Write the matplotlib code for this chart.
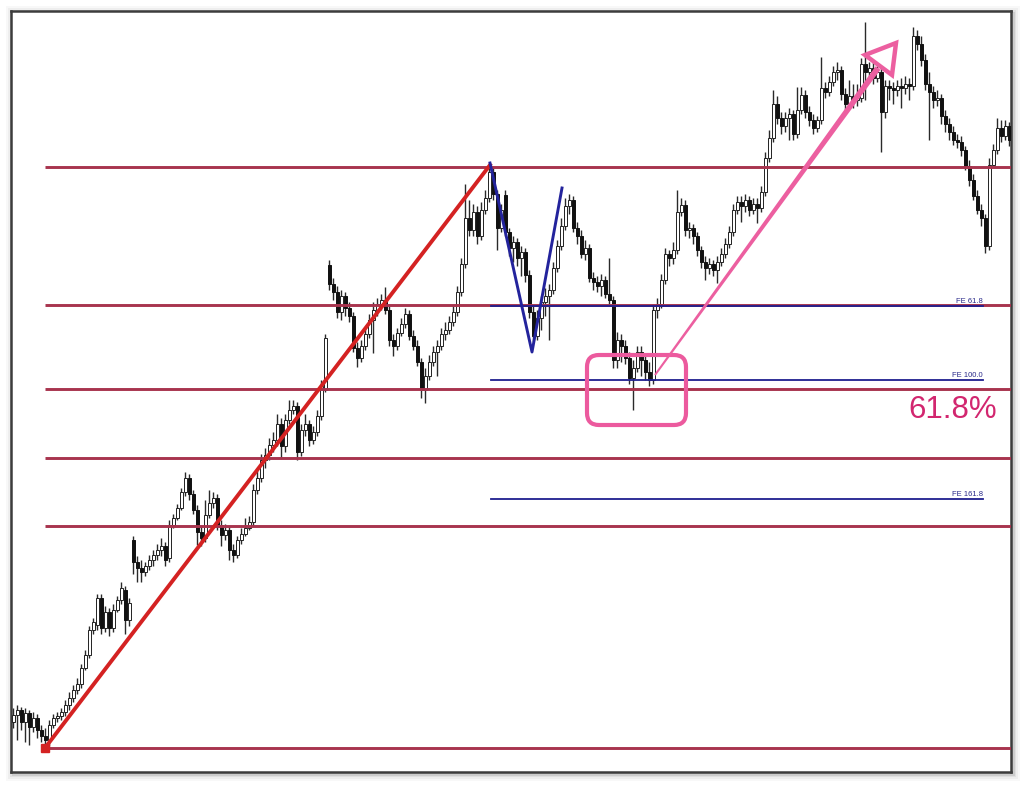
# %% Import
import numpy as np
import matplotlib.pyplot as plt
from matplotlib.patches import FancyBboxPatch, Polygon, Rectangle

# %% Data
# price in points, one value per candle
opens = [78, 85, 90, 78, 87, 73, 82, 70, 64, 60,
         75, 82, 84, 88, 95, 102, 110, 116, 132, 145,
         170, 175, 202, 172, 188, 172, 190, 200, 210, 180,
         260, 238, 232, 228, 234, 240, 245, 250, 254, 242,
         275, 282, 292, 308, 322, 306, 290, 268, 262, 285,
         297, 302, 275, 265, 270, 250, 245, 260, 266, 272,
         278, 310, 322, 340, 345, 355, 360, 376, 354, 380,
         390, 394, 348, 370, 376, 360, 368, 384, 410, 535,
         516, 508, 488, 504, 492, 484, 452, 442, 454, 466,
         480, 490, 496, 500, 490, 460, 454, 467, 476, 486,
         464, 454, 438, 410, 424, 438, 448, 454, 466, 470,
         478, 488, 508, 536, 582, 570, 588, 564, 590, 602,
         628, 606, 572, 605, 568, 552, 558, 542, 548, 525,
         488, 464, 482, 498, 504, 510, 532, 554, 574, 594,
         600, 572, 564, 546, 552, 522, 518, 514, 520, 506,
         500, 440, 460, 454, 442, 422, 432, 448, 440, 428,
         420, 490, 496, 520, 546, 542, 550, 588, 595, 570,
         572, 564, 550, 538, 532, 536, 530, 538, 546, 556,
         568, 590, 598, 594, 600, 590, 596, 592, 608, 642,
         662, 696, 682, 674, 682, 686, 666, 690, 705, 688,
         680, 672, 680, 712, 708, 718, 728, 730, 706, 696,
         704, 700, 702, 736, 728, 732, 722, 728, 688, 714,
         712, 710, 714, 712, 716, 714, 764, 756, 740, 716,
         708, 700, 702, 684, 676, 668, 660, 658, 650, 634,
         620, 604, 590, 582, 554, 635, 650, 672, 664, 674]
closes = [85, 90, 78, 87, 73, 82, 70, 64, 60, 75,
          82, 84, 88, 95, 102, 110, 116, 132, 145, 170,
          178, 202, 172, 188, 172, 190, 200, 212, 180, 197,
          238, 232, 228, 234, 240, 245, 250, 254, 240, 275,
          282, 292, 308, 322, 306, 290, 268, 262, 285, 297,
          302, 275, 265, 270, 250, 245, 260, 266, 272, 278,
          310, 322, 340, 345, 355, 360, 376, 354, 380, 390,
          394, 348, 370, 376, 360, 368, 384, 414, 462, 516,
          508, 488, 504, 492, 484, 452, 442, 454, 466, 480,
          490, 496, 500, 490, 460, 454, 467, 476, 486, 464,
          454, 438, 410, 424, 438, 448, 454, 466, 470, 478,
          488, 508, 536, 582, 570, 588, 564, 590, 602, 628,
          606, 572, 590, 568, 552, 558, 542, 548, 525, 488,
          464, 482, 498, 504, 510, 532, 554, 574, 594, 600,
          572, 564, 546, 552, 522, 518, 514, 520, 506, 500,
          440, 460, 454, 442, 422, 432, 448, 440, 428, 420,
          490, 496, 520, 546, 542, 550, 588, 595, 570, 572,
          564, 550, 538, 532, 536, 530, 538, 546, 556, 568,
          590, 598, 594, 600, 590, 596, 592, 608, 642, 662,
          696, 682, 674, 682, 686, 666, 690, 705, 688, 680,
          672, 680, 712, 708, 718, 728, 730, 706, 696, 704,
          700, 702, 736, 728, 732, 722, 728, 688, 714, 712,
          710, 714, 712, 716, 714, 764, 756, 740, 716, 708,
          700, 702, 684, 676, 668, 660, 658, 650, 634, 620,
          604, 590, 582, 554, 635, 650, 672, 664, 674, 660]
highs = [92, 95, 93, 92, 90, 88, 86, 75, 72, 80,
         86, 88, 92, 100, 108, 115, 122, 136, 150, 174,
         182, 206, 206, 194, 192, 196, 204, 218, 214, 202,
         264, 244, 240, 238, 245, 250, 256, 262, 258, 280,
         286, 296, 312, 328, 326, 310, 295, 274, 300, 310,
         308, 306, 280, 276, 274, 256, 264, 272, 282, 284,
         316, 330, 346, 352, 362, 368, 386, 382, 386, 400,
         400, 398, 376, 386, 380, 374, 390, 420, 466, 540,
         522, 514, 510, 508, 498, 488, 458, 460, 472, 486,
         498, 502, 506, 513, 494, 466, 472, 482, 492, 490,
         470, 460, 442, 432, 445, 454, 460, 472, 478, 484,
         494, 514, 542, 616, 600, 596, 594, 598, 610, 636,
         634, 610, 596, 610, 572, 564, 562, 554, 552, 530,
         494, 490, 504, 512, 516, 538, 560, 582, 602, 606,
         604, 578, 570, 560, 556, 528, 524, 526, 524, 542,
         504, 468, 466, 460, 448, 440, 454, 454, 446, 438,
         496, 502, 526, 552, 550, 558, 610, 602, 600, 578,
         576, 568, 554, 544, 542, 540, 544, 552, 562, 574,
         596, 604, 604, 606, 604, 602, 602, 614, 648, 670,
         710, 704, 688, 688, 692, 690, 713, 713, 710, 694,
         686, 684, 743, 718, 724, 734, 738, 734, 712, 720,
         716, 716, 742, 778, 738, 738, 734, 732, 720, 720,
         718, 720, 722, 724, 722, 773, 770, 764, 746, 728,
         714, 710, 706, 690, 682, 674, 666, 664, 654, 640,
         626, 610, 596, 586, 642, 656, 682, 680, 680, 678]
lows = [72, 60, 70, 58, 55, 68, 62, 58, 52, 54,
        72, 78, 80, 84, 90, 98, 106, 112, 130, 142,
        166, 170, 166, 168, 164, 168, 188, 196, 166, 174,
        226, 218, 218, 224, 230, 234, 240, 244, 234, 238,
        272, 280, 290, 304, 300, 286, 255, 254, 258, 282,
        292, 270, 254, 260, 240, 238, 242, 256, 264, 270,
        274, 306, 318, 332, 340, 348, 354, 342, 348, 376,
        386, 340, 344, 364, 354, 356, 364, 380, 408, 510,
        500, 482, 480, 484, 478, 448, 433, 438, 450, 462,
        447, 484, 490, 486, 454, 444, 450, 464, 472, 460,
        450, 434, 402, 397, 420, 434, 424, 450, 460, 466,
        474, 484, 504, 532, 564, 564, 556, 560, 586, 598,
        600, 550, 568, 564, 544, 538, 534, 524, 518, 482,
        458, 460, 470, 484, 460, 506, 528, 550, 570, 586,
        568, 556, 542, 540, 518, 510, 508, 504, 502, 494,
        432, 432, 438, 436, 416, 390, 428, 424, 420, 414,
        416, 482, 492, 516, 534, 536, 546, 584, 564, 562,
        556, 544, 532, 520, 526, 524, 517, 534, 542, 552,
        564, 586, 578, 588, 584, 586, 577, 588, 604, 638,
        658, 676, 666, 668, 660, 660, 662, 686, 682, 674,
        666, 668, 676, 702, 704, 714, 720, 700, 690, 692,
        692, 694, 698, 700, 722, 716, 718, 648, 682, 700,
        696, 704, 692, 706, 700, 710, 750, 734, 710, 660,
        692, 694, 676, 668, 660, 655, 652, 644, 630, 614,
        600, 586, 574, 547, 550, 642, 646, 658, 660, 654]

# retracement swing: low candle to high candle
trend_x = [8, 119.25]
trend_v = [52, 635]
fib_levels = [633, 495, 411, 342, 274, 52]

# A-B-C swing and expansion levels
zigzag_x = [119.25, 129.75, 137.25]
zigzag_v = [637, 448, 612]
fe_levels = [494, 420, 301]
fe_labels = ["FE 61.8", "FE 100.0", "FE 161.8"]

# %% Figure
W, H = 1024, 785
fig = plt.figure(figsize=(W / 100, H / 100), dpi=100)
fig.patch.set_facecolor('white')

# frame in pixels (left, top, right, bottom)
fl, ft, fr, fb = 11, 11, 1011, 772

# soft drop shadow behind the frame
for k, a in zip([7, 5, 3, 1.5], [0.04, 0.06, 0.09, 0.14]):
    fig.patches.append(Rectangle(((fl - k + 2) / W, (H - fb - k - 2) / H),
                                 (fr - fl + 2 * k) / W, (fb - ft + 2 * k) / H,
                                 transform=fig.transFigure, facecolor='#555555',
                                 edgecolor='none', alpha=a, zorder=-5))

ax = fig.add_axes([fl / W, (H - fb) / H, (fr - fl) / W, (fb - ft) / H])
ax.set_zorder(2)
ax.set_facecolor('white')
ax.set_xlim(-0.5, 249.5)
ax.set_ylim(28, 789)
ax.set_xticks([])
ax.set_yticks([])
for s in ax.spines.values():
    s.set_color('#3c3c3c')
    s.set_linewidth(1.8)

# %% Candles
o = np.array(opens, dtype=float)
c = np.array(closes, dtype=float)
idx = np.arange(len(c))
up = c >= o
body_low = np.minimum(o, c)
body_h = np.maximum(np.abs(c - o), 1.5)

ax.vlines(idx, lows, highs, color='#2a2a2a', lw=1.0, zorder=2)
ax.bar(idx[up], body_h[up], bottom=body_low[up], width=0.75, color='white',
       edgecolor='#222222', linewidth=0.7, zorder=3)
ax.bar(idx[~up], body_h[~up], bottom=body_low[~up], width=0.75, color='#111111',
       edgecolor='#111111', linewidth=0.7, zorder=3)

# %% Fibonacci retracement
for lv in fib_levels:
    ax.plot([trend_x[0], 249.5], [lv, lv], color='#a8344e', lw=2.1, zorder=4,
            solid_capstyle='butt')

ax.plot(trend_x, trend_v, color='#d42222', lw=2.8, zorder=6)
ax.plot(trend_x[0], trend_v[0], 's', color='#d42222', ms=5.5, zorder=6)

# %% Fibonacci expansion
ax.plot(zigzag_x, zigzag_v, color='#23239c', lw=2.1, zorder=6)
for lv, lab in zip(fe_levels, fe_labels):
    ax.plot([119.5, 242.5], [lv, lv], color='#1f1f8f', lw=1.3, zorder=5)
    ax.text(242.5, lv + 1, lab, ha='right', va='bottom', fontsize=5.5,
            color='#2a2a8a', family='Liberation Sans', zorder=5)

# %% Pink markup
box = FancyBboxPatch((143.5, 375), 168.25 - 143.5, 445 - 375,
                     boxstyle='round,pad=0,rounding_size=3', mutation_aspect=4,
                     facecolor='none', edgecolor='#ec5a9e', lw=3, zorder=7)
ax.add_patch(box)


def tapered(p0, p1, w0, w1):
    a = ax.transData.transform(p0)
    b = ax.transData.transform(p1)
    d = b - a
    n = np.array([-d[1], d[0]]) / np.hypot(d[0], d[1])
    pts = [a + n * w0 / 2, b + n * w1 / 2, b - n * w1 / 2, a - n * w0 / 2]
    return ax.transData.inverted().transform(pts)


shaft = Polygon(tapered((160.5, 425), (216.25, 732), 2, 6), closed=True,
                facecolor='#ec5fa0', edgecolor='none', zorder=7)
ax.add_patch(shaft)
head = Polygon([(213, 745), (220.75, 757), (219.75, 725)], closed=True,
               facecolor='white', edgecolor='#ec5fa0', lw=3.2, joinstyle='miter',
               zorder=8)
ax.add_patch(head)

ax.text(223.75, 382, '61.8%', ha='left', va='baseline', fontsize=22.5,
        color='#d2266f', family='Liberation Sans', zorder=8)

fig.savefig('out.png', dpi=100)
